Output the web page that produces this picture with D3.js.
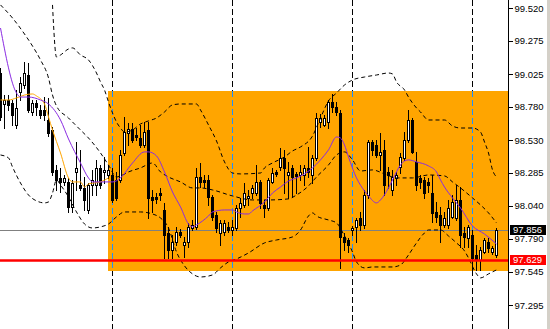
<!DOCTYPE html>
<html><head><meta charset="utf-8">
<script src="https://cdn.jsdelivr.net/npm/d3@7"></script>
<style>html,body{margin:0;padding:0;background:#fff;overflow:hidden}</style>
</head><body>
<svg id="c" width="550" height="329"></svg>
<script>
// ---- candles (index 0..124) ----
const opens = [99.033,98.801,98.831,98.809,98.644,98.891,98.943,99.018,98.741,98.809,
98.756,98.756,98.681,98.606,98.307,98.247,98.217,98.217,98.030,98.292,
98.194,98.172,98.007,98.194,98.194,98.322,98.292,98.269,98.269,98.232,
98.232,98.434,98.584,98.614,98.569,98.546,98.494,98.606,98.105,98.105,
98.134,98.007,97.835,97.707,97.767,97.842,97.745,97.767,97.872,97.880,
98.254,98.232,98.232,98.105,97.970,97.835,97.842,97.880,97.857,97.872,
98.022,98.045,98.097,98.134,98.134,98.217,98.045,98.022,98.217,98.292,
98.329,98.397,98.269,98.322,98.277,98.269,98.269,98.322,98.269,98.397,
98.666,98.644,98.666,98.816,98.779,98.734,97.805,97.782,97.857,97.880,
97.947,97.895,98.119,98.516,98.494,98.419,98.457,98.292,98.157,98.247,
98.329,98.397,98.531,98.681,98.367,98.247,98.232,98.217,98.134,97.992,
97.970,97.895,97.895,97.955,97.947,98.082,97.835,97.797,97.820,97.670,
97.633,97.692,97.767,97.692,97.670];
const highs = [99.071,98.868,98.868,98.831,98.906,99.003,99.116,99.108,98.831,98.831,
98.794,98.853,98.846,98.629,98.344,98.322,98.269,98.247,98.232,98.516,
98.457,98.254,98.209,98.307,98.382,98.344,98.404,98.344,98.322,98.292,
98.457,98.704,98.659,98.659,98.621,98.644,98.666,98.666,98.157,98.134,
98.172,98.060,97.880,97.820,97.880,97.865,97.805,97.910,97.932,98.322,
98.359,98.269,98.269,98.119,97.992,97.932,97.932,97.917,97.932,98.045,
98.097,98.209,98.157,98.194,98.344,98.232,98.082,98.247,98.322,98.307,
98.471,98.457,98.367,98.344,98.292,98.344,98.344,98.479,98.419,98.734,
98.726,98.719,98.831,98.876,98.816,98.756,97.835,97.797,97.887,97.947,
97.992,98.157,98.531,98.531,98.531,98.584,98.531,98.329,98.307,98.292,
98.434,98.591,98.756,98.696,98.442,98.269,98.254,98.247,98.269,98.067,
98.030,97.992,98.082,98.119,98.194,98.179,97.880,97.895,97.857,97.745,
97.730,97.797,97.797,97.737,97.872];
const lows = [98.681,98.621,98.756,98.644,98.621,98.831,98.921,98.741,98.719,98.719,
98.696,98.681,98.561,98.269,98.157,98.142,98.194,97.992,97.992,98.157,
98.157,98.007,97.985,98.119,98.119,98.172,98.209,98.247,98.067,98.082,
98.217,98.419,98.494,98.516,98.531,98.479,98.479,97.947,97.992,98.060,
98.082,97.648,97.648,97.648,97.745,97.805,97.655,97.730,97.857,97.865,
98.179,98.179,98.045,97.932,97.842,97.745,97.820,97.842,97.820,97.857,
97.955,98.030,98.045,98.097,98.119,98.022,97.955,98.007,98.209,98.262,
98.307,98.134,98.097,98.105,98.134,98.232,98.194,98.254,98.209,98.382,
98.629,98.636,98.621,98.741,98.719,97.573,97.707,97.692,97.820,97.767,
97.857,97.872,98.097,98.419,98.404,98.307,98.119,98.172,98.119,98.194,
98.284,98.382,98.516,98.434,98.157,98.172,98.097,98.142,97.917,97.917,
97.767,97.880,97.872,97.947,97.932,97.730,97.730,97.730,97.558,97.558,
97.558,97.685,97.692,97.677,97.655];
const closes = [98.704,98.831,98.794,98.719,98.771,98.958,99.033,98.756,98.809,98.779,
98.719,98.719,98.584,98.292,98.232,98.217,98.247,98.030,98.209,98.322,
98.172,98.082,98.194,98.232,98.322,98.194,98.307,98.307,98.082,98.097,
98.419,98.591,98.614,98.531,98.554,98.494,98.591,98.097,98.082,98.090,
98.119,97.820,97.707,97.767,97.842,97.820,97.767,97.880,97.895,98.254,
98.217,98.217,98.105,97.955,97.872,97.910,97.910,97.857,97.880,98.022,
98.060,98.134,98.112,98.172,98.217,98.060,98.022,98.232,98.284,98.277,
98.397,98.322,98.292,98.254,98.262,98.292,98.322,98.292,98.397,98.696,
98.696,98.696,98.816,98.779,98.741,97.805,97.767,97.745,97.872,97.932,
97.895,98.119,98.516,98.457,98.419,98.442,98.194,98.269,98.254,98.269,
98.404,98.531,98.681,98.442,98.194,98.217,98.134,98.194,97.985,97.955,
97.895,97.947,98.022,98.067,98.082,97.820,97.805,97.880,97.648,97.633,
97.707,97.782,97.722,97.722,97.857];

// ---- indicator lines: [bar index, price] ----
const purpleMA = [[0,99.370],[4,98.883],[5,98.853],[7,98.853],[10,98.831],[12,98.801],[15,98.681],[17,98.539],
[20,98.359],[22,98.247],[23,98.217],[26,98.217],[28,98.217],[30,98.247],[33,98.359],[36,98.442],[37,98.442],
[39,98.412],[41,98.292],[43,98.142],[45,98.030],[47,97.902],[48,97.880],[49,97.895],[52,97.962],[53,97.992],
[56,98.007],[58,98.007],[59,97.992],[61,97.977],[62,97.977],[63,98.000],[66,98.067],[68,98.134],[70,98.179],
[72,98.224],[74,98.247],[76,98.277],[78,98.322],[80,98.382],[82,98.457],[84,98.554],[85,98.546],[86,98.494],
[87,98.404],[89,98.247],[91,98.149],[92,98.112],[94,98.060],[95,98.082],[97,98.172],[98,98.232],[100,98.344],
[101,98.374],[102,98.382],[104,98.367],[107,98.337],[109,98.292],[110,98.232],[111,98.179],[113,98.097],
[115,98.022],[118,97.887],[121,97.827],[124,97.752]];
const orangeMA = [[0,98.831],[2,98.831],[4,98.846],[6,98.868],[8,98.876],[9,98.861],[11,98.801],[12,98.704],
[13,98.606],[15,98.434],[17,98.247],[18,98.217],[20,98.217],[21,98.179],[22,98.202],[25,98.217],[27,98.247]];
const bandMiddle = [[0,99.543],[3,99.445],[6,99.325],[8,99.235],[10,99.131],[12,98.996],[13,98.868],[14,98.786],
[17,98.696],[20,98.606],[22,98.546],[25,98.434],[27,98.344],[29,98.254],[30,98.262],[32,98.292],[35,98.322],
[38,98.359],[40,98.292],[42,98.254],[45,98.217],[48,98.172],[50,98.172],[53,98.157],[58,98.112],[63,98.082],
[67,98.082],[72,98.090],[74,98.119],[77,98.187],[79,98.254],[82,98.344],[84,98.419],[86,98.442],[88,98.382],
[90,98.299],[93,98.307],[96,98.277],[99,98.247],[103,98.247],[107,98.269],[111,98.262],[113,98.217],
[115,98.172],[118,98.097],[120,98.045],[122,97.985],[124,97.910]];
const bandUpper = [[13,99.543],[14,99.153],[15,99.168],[17,99.213],[18,99.221],[20,99.168],[22,99.131],[24,99.033],
[25,98.966],[26,98.906],[27,98.816],[28,98.734],[29,98.666],[30,98.621],[31,98.591],[33,98.606],[35,98.651],
[37,98.674],[39,98.696],[41,98.741],[43,98.794],[45,98.801],[49,98.801],[50,98.756],[52,98.644],[54,98.524],
[56,98.367],[58,98.284],[60,98.277],[65,98.284],[66,98.322],[68,98.359],[71,98.404],[73,98.449],[75,98.479],
[78,98.561],[80,98.696],[82,98.824],[84,98.883],[86,98.943],[88,98.981],[91,99.003],[94,99.018],[97,99.033],
[98,99.026],[99,98.966],[101,98.906],[102,98.853],[104,98.771],[105,98.741],[107,98.681],[111,98.681],
[113,98.636],[115,98.621],[118,98.621],[120,98.591],[121,98.516],[122,98.434],[123,98.307],[124,98.254]];
const bandLower = [[0,98.419],[2,98.397],[3,98.329],[5,98.209],[7,98.119],[9,98.075],[11,98.060],[12,98.067],
[13,98.134],[14,98.232],[15,98.194],[17,98.105],[19,97.992],[21,97.902],[23,97.872],[25,97.880],[27,97.902],
[29,97.955],[31,97.992],[35,97.992],[38,97.977],[40,97.947],[42,97.872],[44,97.692],[46,97.588],[48,97.528],
[50,97.505],[53,97.520],[55,97.573],[57,97.618],[59,97.640],[62,97.685],[66,97.760],[69,97.782],[73,97.805],
[75,97.857],[77,97.962],[78,97.985],[79,97.962],[82,97.932],[84,97.910],[86,97.812],[88,97.692],[89,97.618],
[91,97.573],[93,97.580],[98,97.580],[100,97.595],[102,97.670],[104,97.760],[106,97.835],[107,97.857],
[110,97.857],[112,97.812],[114,97.760],[116,97.700],[117,97.648],[119,97.528],[120,97.498],[122,97.528],[124,97.558]];

const yTicks = [99.520, 99.275, 99.025, 98.780, 98.530, 98.285, 98.040, 97.790, 97.545, 97.295];
const separators = [28, 58, 88, 118];
const zone = {startIndex: 27, high: 98.898, low: 97.550};
const lastPrice = 97.856;
const levelPrice = 97.629;

// ---- drawing ----
const svg = d3.select('#c');
const W = 550, H = 329, axisX = 508;
const x = d3.scaleLinear().domain([0, 124]).range([0, 496]);
const y = d3.scaleLinear().domain([97.295, 99.520]).range([305, 8]);

svg.append('rect').attr('width', W).attr('height', H).attr('fill', '#fff');

const plot = svg.append('g');
plot.append('clipPath').attr('id','pc').append('rect').attr('x',0).attr('y',0).attr('width',axisX).attr('height',H);
const g = plot.append('g').attr('clip-path','url(#pc)');

// zone rectangle
const zy0 = Math.round(y(zone.high)), zy1 = Math.round(y(zone.low));
g.append('rect').attr('x', x(zone.startIndex)).attr('y', zy0)
  .attr('width', axisX - x(zone.startIndex)).attr('height', zy1 - zy0).attr('fill', '#FFA500');

// last price line
const yl = Math.round(y(lastPrice)) + 0.5;
g.append('line').attr('x1',0).attr('x2',axisX).attr('y1',yl).attr('y2',yl)
  .attr('stroke','#808080').attr('stroke-width',1).attr('shape-rendering','crispEdges');

// period separators
separators.forEach(i => {
  const sx = x(i) + 0.5;
  g.append('line').attr('x1',sx).attr('x2',sx).attr('y1',0).attr('y2',H)
    .attr('stroke','#000').attr('stroke-dasharray','6,3').attr('shape-rendering','crispEdges');
  g.append('line').attr('x1',sx).attr('x2',sx).attr('y1',zy0).attr('y2',zy1)
    .attr('stroke','#FFA500').attr('shape-rendering','crispEdges');
  g.append('line').attr('x1',sx).attr('x2',sx).attr('y1',zy0).attr('y2',zy1)
    .attr('stroke','#1E90FF').attr('stroke-dasharray','6,3').attr('shape-rendering','crispEdges');
});

// candles
const cg = g.append('g').attr('shape-rendering','crispEdges');
opens.forEach((o, i) => {
  const c = closes[i];
  const cx = x(i);
  const yh = Math.round(y(highs[i])), ylo = Math.round(y(lows[i]));
  const yo = Math.round(y(o)), yc = Math.round(y(c));
  cg.append('rect').attr('x', cx).attr('y', yh).attr('width', 1).attr('height', ylo - yh + 1).attr('fill', '#000');
  const top = Math.min(yo, yc), bot = Math.max(yo, yc);
  cg.append('rect').attr('x', cx - 1).attr('y', top).attr('width', 3).attr('height', Math.max(1, bot - top + 1)).attr('fill', '#000');
  if (c > o && bot - top > 1) {
    cg.append('rect').attr('x', cx).attr('y', top + 1).attr('width', 1).attr('height', bot - top - 1).attr('fill', '#fff');
  }
});

// indicator lines
const line = d3.line().x(d => x(d[0]) + 0.5).y(d => y(d[1])).curve(d3.curveMonotoneX);
[bandUpper, bandMiddle, bandLower].forEach(b => {
  g.append('path').attr('d', line(b)).attr('fill','none').attr('stroke','#000')
    .attr('stroke-width',1).attr('stroke-dasharray','4,3');
});
g.append('path').attr('d', line(orangeMA)).attr('fill','none').attr('stroke','#FFA500').attr('stroke-width',1);
g.append('path').attr('d', line(purpleMA)).attr('fill','none').attr('stroke','#8A2BE2').attr('stroke-width',1);

// level line
const yr = y(levelPrice);
g.append('line').attr('x1',0).attr('x2',axisX).attr('y1',yr).attr('y2',yr)
  .attr('stroke','#FF0000').attr('stroke-width',2.5);

// axis
svg.append('line').attr('x1',axisX+0.5).attr('x2',axisX+0.5).attr('y1',0).attr('y2',H)
  .attr('stroke','#000').attr('shape-rendering','crispEdges');
const ax = svg.append('g').attr('transform',`translate(${axisX+0.5},0)`)
  .call(d3.axisRight(y).tickValues(yTicks).tickFormat(d3.format('.3f')).tickSize(4).tickPadding(2).tickSizeOuter(0));
ax.select('.domain').remove();
ax.selectAll('line').attr('stroke','#000').attr('shape-rendering','crispEdges');
ax.selectAll('text').attr('font-family','"Liberation Sans", Arial, sans-serif').attr('font-size','9.5px').attr('fill','#000');

// price boxes
function priceBox(p, bg) {
  const py = Math.round(y(p));
  svg.append('rect').attr('x', 510).attr('y', py - 5).attr('width', 36).attr('height', 10).attr('fill', bg);
  svg.append('text').attr('x', 513).attr('y', py).attr('dy','0.35em')
    .attr('font-family','"Liberation Sans", Arial, sans-serif').attr('font-size','9.5px')
    .attr('fill','#fff').text(d3.format('.3f')(p));
}
priceBox(lastPrice, '#000');
priceBox(levelPrice, '#FF0000');

// right edge strip
svg.append('rect').attr('x', 547).attr('y', 0).attr('width', 3).attr('height', H).attr('fill', '#d4d0c8');
</script>
</body></html>
